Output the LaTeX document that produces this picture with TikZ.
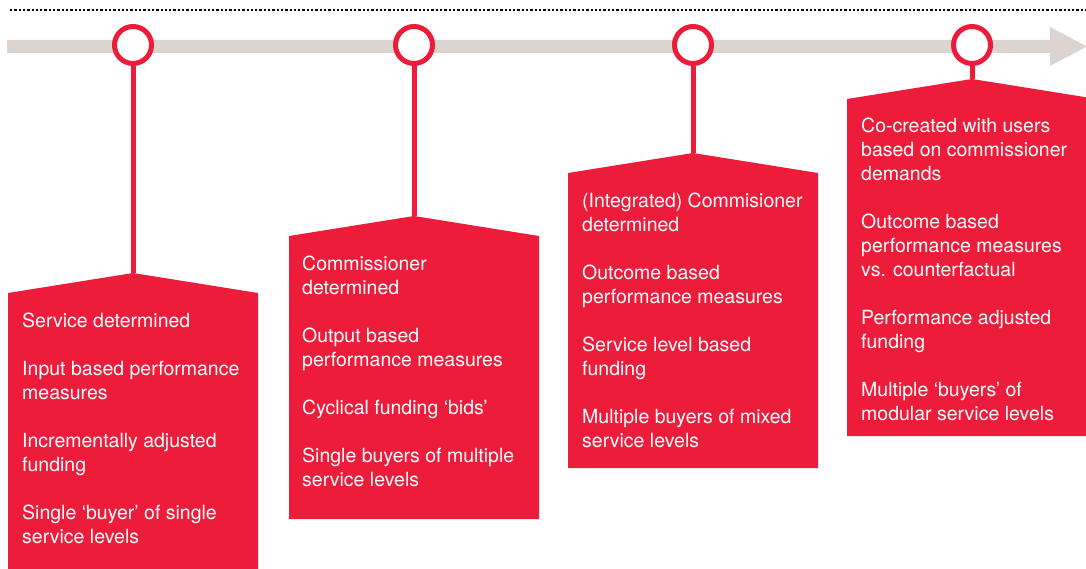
\documentclass[tikz,border=0pt]{standalone}
\usepackage{fontspec}
\setmainfont{TeX Gyre Heros}
\usepackage{tikz}
\usetikzlibrary{positioning}
\definecolor{stagered}{HTML}{ED1C3A}
\definecolor{bargray}{HTML}{DBD4CF}
% one stage: a red tag with a pointed roof, apex saved as coordinate #1
\newcommand\stagebox[4]{%
\fill[stagered] (#2,#3+20) -- (#2+125,#3) coordinate (#1) -- (#2+250,#3+20) -- (#2+250,#4) -- (#2,#4) -- cycle;
}

\begin{document}
\begin{tikzpicture}[x=1pt,y=-1pt,
	ring/.style={circle, draw=stagered, line width=5pt, fill=white, minimum size=37pt, inner sep=0pt},
	stem/.style={draw=stagered, line width=5pt},
	stagetext/.style={anchor=north west, inner sep=0pt, align=left, text=white, font={\fontsize{19.5}{24}\selectfont}}]
	%% page frame
	\useasboundingbox (0,0) rectangle (1086,569);

	% dotted rule on top
	\draw[line width=2.6pt, dash pattern=on 2.3pt off 2pt] (10,10) -- (1086,10);

	% time line
	\fill[bargray] (7,40) -- (1050,40) -- (1050,27) -- (1087,46.5) -- (1050,66) -- (1050,53) -- (7,53) -- cycle;

	% the four tags
	\stagebox{top1}{8}{273}{580}
	\stagebox{top2}{289}{216}{519}
	\stagebox{top3}{568}{153}{468}
	\stagebox{top4}{847}{79}{436}

	% rings on the time line
	\node[ring] (ring1) at (133,45) {};
	\node[ring] (ring2) at (414,45) {};
	\node[ring] (ring3) at (693,45) {};
	\node[ring] (ring4) at (972,45) {};

	\draw[stem] (ring1) -- (top1);
	\draw[stem] (ring2) -- (top2);
	\draw[stem] (ring3) -- (top3);
	\draw[stem] (ring4) -- (top4);

	% texts, 24pt extra between two items
	\node[stagetext] (text1) at (22,313) {Service determined\\[24pt]
		Input based performance\\measures\\[24pt]
		Incrementally adjusted\\funding\\[24pt]
		Single ‘buyer’ of single\\service levels};
	\node[stagetext] (text2) at (302,256) {Commissioner\\determined\\[24pt]
		Output based\\performance measures\\[24pt]
		Cyclical funding ‘bids’\\[24pt]
		Single buyers of multiple\\service levels};
	\node[stagetext] (text3) at (582,193) {(Integrated) Commisioner\\determined\\[24pt]
		Outcome based\\performance measures\\[24pt]
		Service level based\\funding\\[24pt]
		Multiple buyers of mixed\\service levels};
	\node[stagetext] (text4) at (861,118) {Co-created with users\\based on commissioner\\demands\\[24pt]
		Outcome based\\performance measures\\vs. counterfactual\\[24pt]
		Performance adjusted\\funding\\[24pt]
		Multiple ‘buyers’ of\\modular service levels};
\end{tikzpicture}
\end{document}
